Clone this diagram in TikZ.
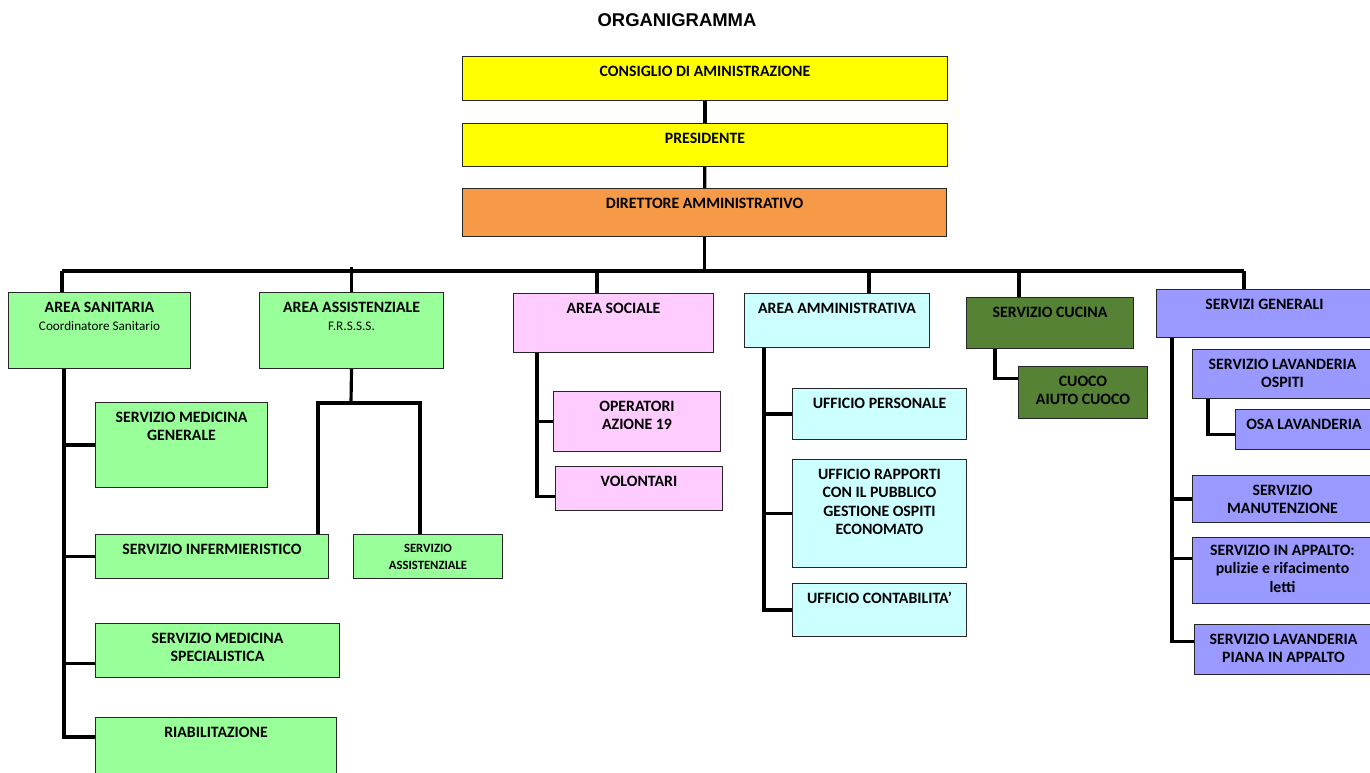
\documentclass[tikz,border=0pt]{standalone}
\usepackage{fontspec}
\setmainfont{Carlito}
\newfontfamily\titlefont{Liberation Sans}
\usepackage{tikz}
\usetikzlibrary{positioning}
\definecolor{boxYellow}{HTML}{FFFF00}
\definecolor{boxOrange}{HTML}{F79A48}
\definecolor{boxGreen}{HTML}{99FF99}
\definecolor{boxPink}{HTML}{FFCCFF}
\definecolor{boxCyan}{HTML}{CCFFFF}
\definecolor{boxKitchen}{HTML}{558235}
\definecolor{boxLilac}{HTML}{9999FF}
\tikzset{OrgBox/.style={%
    draw=black!85,%
    line width=0.6pt,%
    inner sep=0pt,%
    align=flush center,%
    anchor=north west,%
    text height=0.4cm,%
    font=\fontsize{9}{10.5}\selectfont\bfseries,%
}}
\tikzset{Link/.style={%
    line width=1.8pt,%
    black,%
}}
\NewDocumentCommand{\subLine}{m}{%
    {\mdseries\fontsize{7.5}{9}\selectfont #1}%
}

\begin{document}
\begin{tikzpicture}[x=0.02cm, y=-0.02cm]
    \useasboundingbox (0,0) rectangle (1370,772);
    \node[font=\titlefont\fontsize{10.5}{12}\selectfont\bfseries] (title) at (677,20) {ORGANIGRAMMA};

    % top of the chart
    \node[OrgBox, fill=boxYellow, text width=9.70cm, text depth=0.48cm] (cda) at (462,56) {CONSIGLIO DI AMINISTRAZIONE};
    \node[OrgBox, fill=boxYellow, text width=9.70cm, text depth=0.46cm] (pres) at (462,123) {PRESIDENTE};
    \node[OrgBox, fill=boxOrange, text width=9.68cm, text depth=0.56cm] (dir) at (462,188) {DIRETTORE AMMINISTRATIVO};

    % areas
    \node[OrgBox, fill=boxGreen, text width=3.64cm, text depth=1.12cm] (sanit) at (8,292) {AREA SANITARIA\\\subLine{Coordinatore Sanitario}};
    \node[OrgBox, fill=boxGreen, text width=3.68cm, text depth=1.12cm] (assist) at (259,292) {AREA ASSISTENZIALE\\\subLine{F.R.S.S.S.}};
    \node[OrgBox, fill=boxPink, text width=4.00cm, text depth=0.78cm] (sociale) at (513,293) {AREA SOCIALE};
    \node[OrgBox, fill=boxCyan, text width=3.70cm, text depth=0.68cm] (ammin) at (744,293) {AREA AMMINISTRATIVA};
    \node[OrgBox, fill=boxKitchen, text width=3.34cm, text depth=0.62cm] (cucina) at (966,297) {SERVIZIO CUCINA};
    \node[OrgBox, fill=boxLilac, text width=4.32cm, text depth=0.56cm] (generali) at (1156,289) {SERVIZI GENERALI};

    % area sanitaria
    \node[OrgBox, fill=boxGreen, text width=3.44cm, text depth=1.30cm] (medgen) at (95,402) {SERVIZIO MEDICINA\\GENERALE};
    \node[OrgBox, fill=boxGreen, text width=4.66cm, text depth=0.48cm] (inferm) at (95,534) {SERVIZIO INFERMIERISTICO};
    \node[OrgBox, fill=boxGreen, text width=4.88cm, text depth=0.68cm] (medspec) at (95,623) {SERVIZIO MEDICINA\\SPECIALISTICA};
    \node[OrgBox, fill=boxGreen, text width=4.82cm, text depth=0.78cm] (riab) at (95,717) {RIABILITAZIONE};
    \node[OrgBox, fill=boxGreen, text width=2.98cm, text height=0.36cm, text depth=0.52cm,
        font=\fontsize{7.2}{9.6}\selectfont\bfseries] (servass) at (353,534) {SERVIZIO\\ASSISTENZIALE};

    % area sociale
    \node[OrgBox, fill=boxPink, text width=3.34cm, text depth=0.80cm] (operatori) at (553,391) {OPERATORI\\AZIONE 19};
    \node[OrgBox, fill=boxPink, text width=3.34cm, text depth=0.48cm] (volontari) at (555,466) {VOLONTARI};

    % area amministrativa
    \node[OrgBox, fill=boxCyan, text width=3.48cm, text depth=0.62cm] (upers) at (792,388) {UFFICIO PERSONALE};
    \node[OrgBox, fill=boxCyan, text width=3.48cm, text depth=1.76cm] (urapp) at (792,459) {UFFICIO RAPPORTI\\CON IL PUBBLICO\\GESTIONE OSPITI\\ECONOMATO};
    \node[OrgBox, fill=boxCyan, text width=3.48cm, text depth=0.66cm] (ucont) at (792,583) {UFFICIO CONTABILITA'};

    % cucina
    \node[OrgBox, fill=boxKitchen, text width=2.58cm, text depth=0.64cm] (cuoco) at (1018,366) {CUOCO\\AIUTO CUOCO};

    % servizi generali
    \node[OrgBox, fill=boxLilac, text width=3.60cm, text depth=0.58cm] (lavosp) at (1192,349) {SERVIZIO LAVANDERIA\\OSPITI};
    \node[OrgBox, fill=boxLilac, text width=2.74cm, text depth=0.40cm] (osa) at (1235,409) {OSA LAVANDERIA};
    \node[OrgBox, fill=boxLilac, text width=3.60cm, text depth=0.54cm] (manut) at (1192,475) {SERVIZIO\\MANUTENZIONE};
    \node[OrgBox, fill=boxLilac, text width=3.60cm, text height=0.36cm, text depth=0.96cm] (appalto) at (1192,537) {SERVIZIO IN APPALTO:\\pulizie e rifacimento\\letti};
    \node[OrgBox, fill=boxLilac, text width=3.56cm, text depth=0.60cm] (lavpiana) at (1194,624) {SERVIZIO LAVANDERIA\\PIANA IN APPALTO};

    % bus and trunk
    \coordinate (busL) at (62,271);
    \coordinate (busR) at (1244,271);
    \coordinate (xSoc) at (597,0);
    \coordinate (xAmm) at (869,0);
    \coordinate (xCuc) at (1019,0);
    \draw[Link] (cda) -- (pres);
    \draw[Link] (pres) -- (dir);
    \draw[Link] (dir.south) -- (dir.south |- busL);
    \draw[Link] (busL) -- (busR);
    \draw[Link] (busL) -- (busL |- sanit.north);
    \draw[Link] (assist.north) -- ++(0,-25);
    \draw[Link] (xSoc |- busL) -- (xSoc |- sociale.north);
    \draw[Link] (xAmm |- busL) -- (xAmm |- ammin.north);
    \draw[Link] (xCuc |- busL) -- (xCuc |- cucina.north);
    \draw[Link] (busR) -- (busR |- generali.north);

    % branches
    \coordinate (xSan) at (64,0);
    \draw[Link] (sanit.south -| xSan) |- ([yshift=-0.4cm]riab.north west);
    \draw[Link] (xSan |- medgen.west) -- (medgen.west);
    \draw[Link] (xSan |- inferm.west) -- (inferm.west);
    \draw[Link] ([yshift=-0.26cm]medspec.west) -- ++(-31,0);

    \coordinate (asJ) at (351,403);
    \coordinate (xInf) at (318,0);
    \coordinate (xAss) at (420,0);
    \draw[Link] (assist.south) -- (asJ);
    \draw[Link] (xInf |- inferm.north) |- (asJ) -| (xAss |- servass.north);

    \coordinate (xSo) at (537,0);
    \draw[Link] (sociale.south -| xSo) |- ([yshift=-0.16cm]volontari.west);
    \draw[Link] (xSo |- operatori.west) -- (operatori.west);

    \coordinate (xAm) at (764,0);
    \draw[Link] (ammin.south -| xAm) |- (ucont.west);
    \draw[Link] (xAm |- upers.west) -- (upers.west);
    \draw[Link] (xAm |- urapp.west) -- (urapp.west);

    \coordinate (xCu) at (995,0);
    \draw[Link] (cucina.south -| xCu) |- ([yshift=0.28cm]cuoco.west);

    \coordinate (xGe) at (1172,0);
    \draw[Link] (generali.south -| xGe) |- ([yshift=0.16cm]lavpiana.west);
    \draw[Link] (xGe |- manut.west) -- (manut.west);
    \draw[Link] ([yshift=0.24cm]appalto.west) -- ++(-20,0);

    \coordinate (xLo) at (1208,0);
    \draw[Link] (lavosp.south -| xLo) |- ([yshift=-0.1cm]osa.west);
\end{tikzpicture}
\end{document}
